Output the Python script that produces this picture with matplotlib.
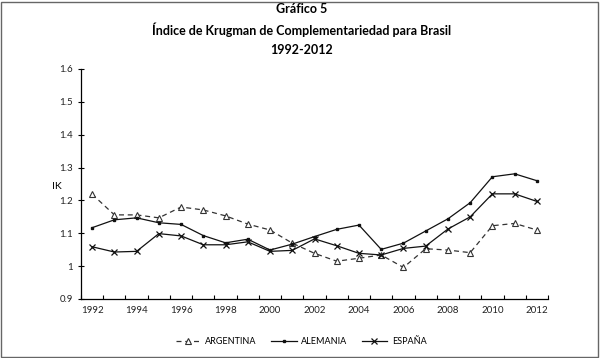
import numpy as np
import matplotlib
matplotlib.use('Agg')
import matplotlib.pyplot as plt
from matplotlib.patches import Rectangle

plt.rcParams['font.family'] = ['Lato', 'DejaVu Sans']

# Datos
years = list(range(1992, 2013))
argentina = [1.219, 1.156, 1.156, 1.147, 1.180, 1.171, 1.153, 1.128, 1.110, 1.070,
             1.039, 1.015, 1.024, 1.034, 0.996, 1.053, 1.049, 1.041, 1.123, 1.130, 1.110]
alemania = [1.117, 1.141, 1.147, 1.132, 1.127, 1.093, 1.071, 1.082, 1.049, 1.067,
            1.090, 1.112, 1.125, 1.051, 1.070, 1.107, 1.144, 1.193, 1.272, 1.281, 1.260]
espana = [1.059, 1.043, 1.045, 1.099, 1.092, 1.065, 1.065, 1.074, 1.045, 1.048,
          1.083, 1.062, 1.039, 1.034, 1.054, 1.061, 1.113, 1.150, 1.220, 1.220, 1.197]
yticks = [0.9, 1, 1.1, 1.2, 1.3, 1.4, 1.5, 1.6]
ytick_labels = ['0.9', '1', '1.1', '1.2', '1.3', '1.4', '1.5', '1.6']

fig = plt.figure(figsize=(6.03, 3.58), dpi=100)
ax = fig.add_axes([81 / 603, 1 - 299 / 358, (548 - 81) / 603, (299 - 69) / 358])

ax.plot(years, argentina, color='#333333', ls=(0, (4, 3)), lw=0.9, marker='^',
        ms=5, mfc='white', mec='#333333', mew=0.8, label='ARGENTINA')
ax.plot(years, alemania, color='#111111', lw=0.9, marker='s', ms=2,
        mfc='#111111', label='ALEMANIA')
ax.plot(years, espana, color='#111111', lw=0.9, marker='x', ms=5, mew=0.9,
        label='ESPAÑA')

ax.set_xlim(1991.5, 2012.5)
ax.set_ylim(0.9, 1.6)
ax.set_xticks(years[::2])
ax.set_xticklabels([str(y) for y in years[::2]], fontsize=7, color='#222222')
ax.set_xticks(np.arange(1991.5, 2013, 1), minor=True)
ax.tick_params(axis='x', which='major', length=0, pad=5)
ax.tick_params(axis='x', which='minor', direction='in', length=3, width=0.8)
ax.set_yticks(yticks)
ax.set_yticklabels(ytick_labels, fontsize=7, color='#222222')
ax.tick_params(axis='y', direction='inout', length=4, width=0.8, pad=4)
for s in ['top', 'right']:
    ax.spines[s].set_visible(False)
for s in ['left', 'bottom']:
    ax.spines[s].set_linewidth(0.9)
ax.set_ylabel('IK', rotation=0, fontsize=7.5, va='center')
ax.yaxis.set_label_coords(-0.051, 0.49)

fig.text(0.5, 1 - 9 / 358, 'Gráfico 5', ha='center', va='center',
         fontsize=9, fontweight='bold')
fig.text(0.5, 1 - 30 / 358, 'Índice de Krugman de Complementariedad para Brasil',
         ha='center', va='center', fontsize=9, fontweight='bold')
fig.text(0.5, 1 - 50 / 358, '1992-2012', ha='center', va='center',
         fontsize=9, fontweight='bold')

fig.legend(loc='center', bbox_to_anchor=(301 / 603, 1 - 342 / 358), ncol=3,
           frameon=False, fontsize=6.5, handlelength=2.8, handletextpad=0.5,
           columnspacing=1.6)

fig.patches.append(Rectangle((0.002, 0.002), 0.99, 0.993, transform=fig.transFigure,
                             fill=False, ec='#666666', lw=1))

fig.savefig('out.png', dpi=100)
